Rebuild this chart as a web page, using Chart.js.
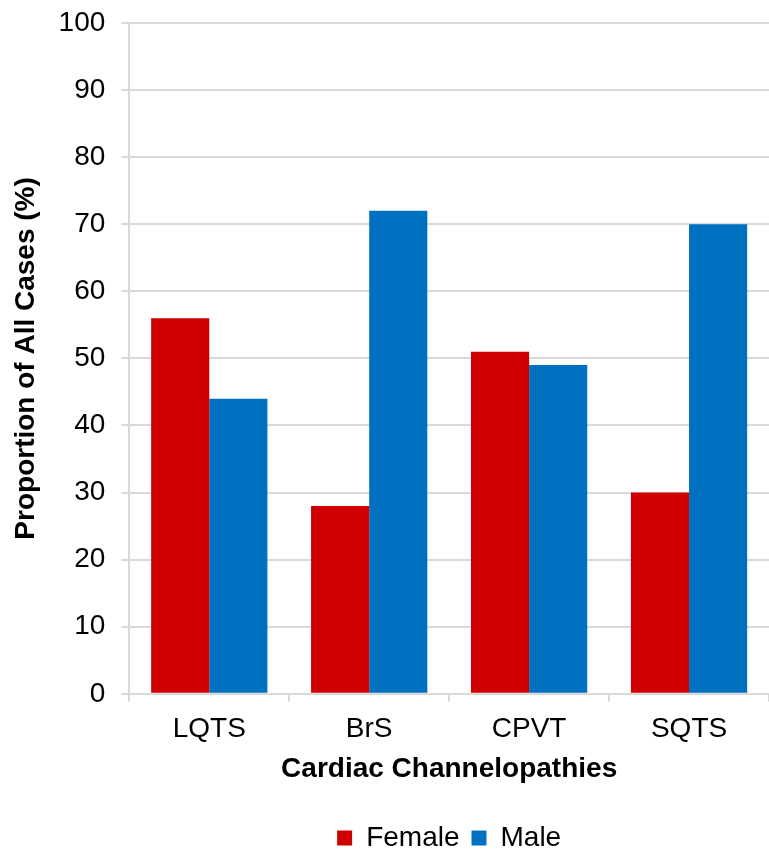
<!DOCTYPE html>
<html>
<head>
<meta charset="utf-8">
<script src="https://cdn.jsdelivr.net/npm/chart.js@4/dist/chart.umd.min.js"></script>
<style>
  html, body { margin: 0; padding: 0; background: #fff; }
  #wrap { width: 769px; height: 855px; }
</style>
</head>
<body>
<div id="wrap"><canvas id="chart"></canvas></div>
<script>
// values
const categories = ['LQTS', 'BrS', 'CPVT', 'SQTS'];
const femaleValues = [56, 28, 51, 30];
const maleValues = [44, 72, 49, 70];
const seriesNames = ['Female', 'Male'];

const FONT = '"Liberation Sans", Arial, sans-serif';
const GRID = '#D9D9D9';

const ctx = document.getElementById('chart').getContext('2d');
new Chart(ctx, {
  type: 'bar',
  data: {
    labels: categories,
    datasets: [
      { label: seriesNames[0], data: femaleValues, backgroundColor: '#D00000' },
      { label: seriesNames[1], data: maleValues, backgroundColor: '#0070C0' }
    ]
  },
  options: {
    responsive: true,
    maintainAspectRatio: false,
    animation: false,
    datasets: { bar: { categoryPercentage: 0.727, barPercentage: 1.0 } },
    layout: { padding: { left: 9, right: 0, top: 0, bottom: -7 } },
    plugins: {
      tooltip: { enabled: false },
      legend: {
        position: 'bottom',
        fullSize: false,
        labels: {
          color: '#000',
          font: { family: FONT, size: 28 },
          boxWidth: 15, boxHeight: 15,
          padding: 12
        }
      }
    },
    scales: {
      x: {
        grid: { display: true, drawOnChartArea: false, drawTicks: true, tickLength: 8, color: GRID, lineWidth: 2 },
        border: { color: GRID, width: 2 },
        ticks: { color: '#000', font: { family: FONT, size: 28 }, padding: 11 },
        title: { display: true, text: 'Cardiac Channelopathies', color: '#000', font: { family: FONT, size: 28, weight: 'bold' }, padding: { top: -5, bottom: 26 } },
        afterFit: (scale) => { scale.paddingLeft = 0; }
      },
      y: {
        min: 0, max: 100,
        ticks: { stepSize: 10, color: '#000', font: { family: FONT, size: 28 }, padding: 16 },
        grid: { color: GRID, lineWidth: 2, tickLength: 8 },
        border: { color: GRID, width: 2 },
        title: { display: true, text: 'Proportion of All Cases (%)', color: '#000', font: { family: FONT, size: 28, weight: 'bold' }, padding: { top: 0, bottom: 0 } },
        // keep the top gap to half a label, not label + tick padding
        afterFit: (scale) => { scale.paddingTop = 23; }
      }
    }
  }
});
</script>
</body>
</html>
